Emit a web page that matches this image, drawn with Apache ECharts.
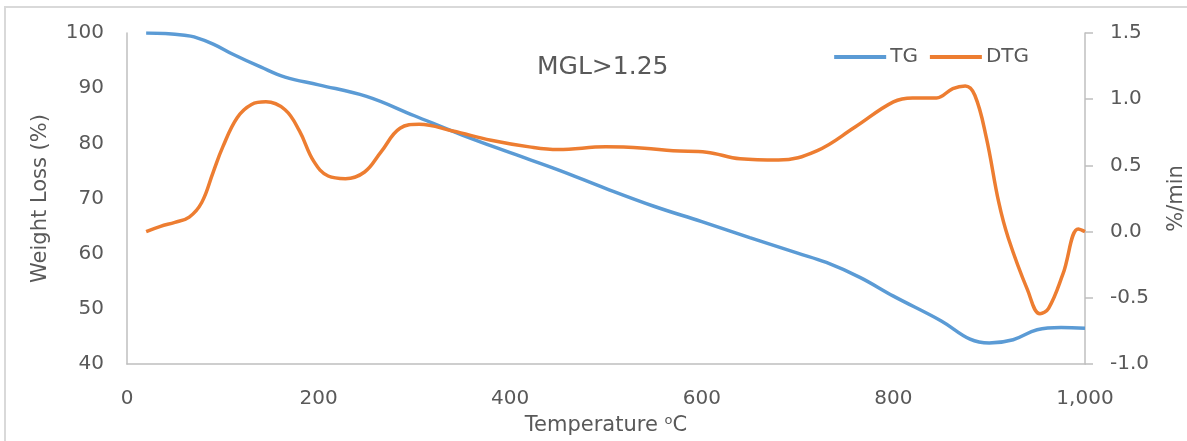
<!DOCTYPE html>
<html>
<head>
<meta charset="utf-8">
<script src="https://cdn.jsdelivr.net/npm/echarts@6/dist/echarts.min.js"></script>
<style>
  html, body { margin: 0; padding: 0; background: #fff; }
  #chart { width: 1187px; height: 441px; }
</style>
</head>
<body>
<div id="chart"></div>
<script>
// TG curve, weight loss (%) vs temperature (C)
const tgTemp = [20, 40, 60, 70, 90, 110, 140, 165, 200, 250, 300, 350, 400, 450, 500, 550, 600, 650, 700, 730, 765, 800, 850, 880, 900, 925, 950, 975, 1000];
const tgValue = [100, 99.9, 99.6, 99.3, 98, 96.2, 93.8, 92, 90.6, 88.5, 85, 81.5, 78.3, 75.2, 71.8, 68.6, 65.8, 62.9, 60.1, 58.4, 55.7, 52.3, 47.8, 44.5, 43.8, 44.4, 46.2, 46.6, 46.5];

// DTG curve, %/min vs temperature (C)
const dtgTemp = [20, 35, 50, 65, 78, 90, 100, 115, 130, 145, 165, 180, 195, 210, 228, 248, 265, 285, 305, 340, 380, 420, 450, 500, 540, 570, 605, 640, 680, 720, 760, 800, 820, 845, 862, 875, 885, 897, 910, 920, 940, 953, 962, 977, 993, 1000];
const dtgValue = [0.0, 0.04, 0.07, 0.11, 0.22, 0.45, 0.64, 0.86, 0.96, 0.98, 0.92, 0.76, 0.53, 0.42, 0.40, 0.45, 0.60, 0.78, 0.81, 0.76, 0.69, 0.64, 0.62, 0.64, 0.63, 0.61, 0.60, 0.55, 0.54, 0.61, 0.79, 0.98, 1.01, 1.01, 1.08, 1.10, 1.03, 0.71, 0.22, -0.05, -0.44, -0.62, -0.58, -0.32, 0.02, 0.0];

const xTicks = [0, 200, 400, 600, 800, 1000];

var chartDom = document.getElementById("chart");
var myChart = echarts.init(chartDom);
var textColor = "#595959";
var axisGray = "#bfbfbf";
var font = "DejaVu Sans";

var option = {
  backgroundColor: "#fff",
  animation: false,
  textStyle: { fontFamily: font },
  graphic: [
    {
      type: "rect",
      shape: { x: 5, y: 7, width: 1300, height: 500 },
      style: { fill: "none", stroke: "#d9d9d9", lineWidth: 2 },
      silent: true
    }
  ],
  title: {
    text: "MGL>1.25",
    left: 532,
    top: 50,
    textStyle: { color: textColor, fontSize: 25, fontWeight: "normal", fontFamily: font }
  },
  legend: {
    right: 153,
    top: 42,
    itemWidth: 52,
    itemHeight: 4,
    itemGap: 12,
    icon: "rect",
    textStyle: { color: textColor, fontSize: 20, fontFamily: font, padding: [0, 0, 0, -1] },
    data: ["TG", "DTG"]
  },
  grid: { left: 127, right: 102, top: 33, bottom: 77, outerBoundsMode: "none" },
  xAxis: {
    type: "value",
    min: 0,
    max: 1000,
    interval: 200,
    name: "{a|Temperature }{s|o}{a|C}",
    nameLocation: "middle",
    nameGap: 50,
    nameTextStyle: {
      color: textColor,
      fontSize: 21,
      fontFamily: font,
      rich: {
        a: { fontSize: 21, lineHeight: 24, color: textColor, fontFamily: font },
        s: { fontSize: 13, lineHeight: 12, verticalAlign: "top", color: textColor, fontFamily: font }
      }
    },
    axisLine: { show: true, onZero: false, lineStyle: { color: axisGray, width: 1.5 } },
    axisTick: { show: false },
    splitLine: { show: false },
    axisLabel: {
      color: textColor,
      fontSize: 20,
      margin: 25,
      formatter: function (v) { return xTicks.indexOf(v) >= 0 ? v.toLocaleString("en-US") : ""; }
    }
  },
  yAxis: [
    {
      type: "value",
      min: 40,
      max: 100,
      interval: 10,
      name: "Weight Loss (%)",
      nameLocation: "middle",
      nameGap: 76,
      nameRotate: 90,
      nameTextStyle: { color: textColor, fontSize: 21, fontFamily: font },
      axisLine: { show: true, onZero: false, lineStyle: { color: axisGray, width: 1.5 } },
      axisTick: { show: false },
      splitLine: { show: false },
      axisLabel: { color: textColor, fontSize: 20, margin: 23 }
    },
    {
      type: "value",
      min: -1.0,
      max: 1.5,
      interval: 0.5,
      position: "right",
      name: "%/min",
      nameLocation: "middle",
      nameGap: 81,
      nameRotate: 90,
      nameTextStyle: { color: textColor, fontSize: 21, fontFamily: font },
      axisLine: { show: true, onZero: false, lineStyle: { color: axisGray, width: 1.5 } },
      axisTick: { show: true, length: 8, lineStyle: { color: axisGray, width: 1.5 } },
      splitLine: { show: false },
      axisLabel: {
        color: textColor,
        fontSize: 20,
        margin: 25,
        formatter: function (v) { return v.toFixed(1); }
      }
    }
  ],
  series: [
    {
      name: "TG",
      type: "line",
      yAxisIndex: 0,
      smooth: 0.4,
      showSymbol: false,
      lineStyle: { color: "#5b9bd5", width: 3.5 },
      itemStyle: { color: "#5b9bd5" },
      data: tgTemp.map(function (t, i) { return [t, tgValue[i]]; })
    },
    {
      name: "DTG",
      type: "line",
      yAxisIndex: 1,
      smooth: 0.4,
      showSymbol: false,
      lineStyle: { color: "#ed7d31", width: 3.5 },
      itemStyle: { color: "#ed7d31" },
      data: dtgTemp.map(function (t, i) { return [t, dtgValue[i]]; })
    }
  ]
};

option && myChart.setOption(option);
</script>
</body>
</html>
